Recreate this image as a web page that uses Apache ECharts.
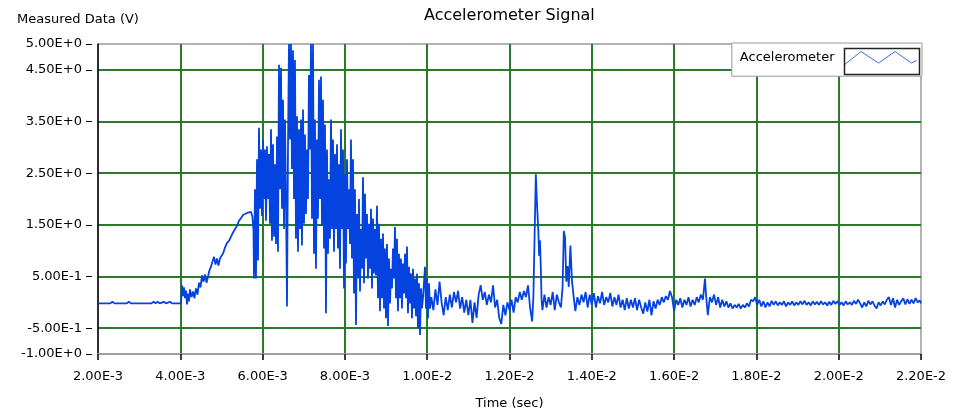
<!DOCTYPE html>
<html>
<head>
<meta charset="utf-8">
<script src="https://cdn.jsdelivr.net/npm/echarts@6/dist/echarts.min.js"></script>
<style>
html,body{margin:0;padding:0;background:#fff;}
#chart{width:961px;height:415px;}
</style>
</head>
<body>
<div id="chart"></div>
<script>
// ---- data (time in ms, value in V) ----
const seriesName = 'Accelerometer';
const yTickValues = [-1, -0.5, 0.5, 1.5, 2.5, 3.5, 4.5, 5];

const baselineSeg = [
  [2.00,-0.02],[2.30,-0.02],[2.35,0.01],[2.40,-0.02],[2.70,-0.02],[2.75,0.01],[2.80,-0.02],
  [3.30,-0.02],[3.35,0.01],[3.40,-0.02],[3.45,0.01],[3.50,-0.02],[3.60,0.01],[3.65,-0.02],
  [3.75,0.01],[3.80,-0.02],[3.95,-0.02]
];

const rampSeg = [
  [4.017,-0.02],[4.041,0.33],[4.066,0.12],[4.090,0.29],[4.114,0.08],[4.138,0.23],[4.163,-0.04],
  [4.187,0.17],[4.211,0.02],[4.236,0.25],[4.272,0.10],[4.309,0.21],[4.345,0.08],[4.381,0.27],
  [4.418,0.15],[4.454,0.38],[4.491,0.29],[4.527,0.52],[4.564,0.40],[4.600,0.54],[4.637,0.38],
  [4.673,0.50],[4.709,0.62],[4.746,0.69],[4.782,0.79],[4.819,0.88],[4.855,0.73],[4.892,0.85],
  [4.928,0.71],[4.965,0.85],[5.001,0.90],[5.037,0.94],[5.086,1.06],[5.135,1.15],[5.183,1.19],
  [5.232,1.27],[5.280,1.35],[5.329,1.42],[5.378,1.48],[5.426,1.58],[5.475,1.63],[5.523,1.69],
  [5.572,1.71],[5.621,1.73],[5.669,1.71],[5.718,1.75],[5.754,1.65],[5.779,1.38]
];

const burstSeg = [
  [5.791,0.46],[5.815,2.19],[5.839,0.46],[5.864,2.77],[5.888,0.81],[5.912,3.38],[5.937,1.81],
  [5.961,2.96],[5.985,1.67],[6.010,3.15],[6.034,2.00],[6.058,2.96],[6.083,1.58],[6.107,3.02],
  [6.131,2.00],[6.156,2.87],[6.180,1.52],[6.204,3.35],[6.228,1.19],[6.253,3.06],[6.277,1.27],
  [6.301,2.67],[6.326,1.13],[6.350,3.21],[6.374,0.98],[6.398,4.60],[6.423,2.19],[6.447,4.54],
  [6.471,1.81],[6.496,3.92],[6.520,1.42],[6.544,3.54],[6.569,2.00],[6.593,-0.08],[6.617,2.96],
  [6.641,5.00],[6.666,3.15],[6.690,5.00],[6.714,2.58],[6.739,4.88],[6.763,2.00],[6.787,4.69],
  [6.811,1.23],[6.836,3.60],[6.860,0.98],[6.884,3.35],[6.909,1.42],[6.933,3.54],[6.957,1.10],
  [6.982,3.73],[7.006,1.52],[7.030,3.25],[7.054,1.71],[7.079,2.96],[7.103,2.00],[7.127,4.40],
  [7.152,2.96],[7.176,5.00],[7.200,1.62],[7.225,5.00],[7.249,0.94],[7.273,3.54],[7.297,0.65],
  [7.322,3.15],[7.346,1.62],[7.370,4.31],[7.395,2.00],[7.419,4.37],[7.443,1.48],[7.468,3.92],
  [7.492,1.04],[7.516,3.44],[7.540,-0.21],[7.565,2.96],[7.589,0.94],[7.613,2.38],[7.638,1.23],
  [7.662,3.54],[7.686,1.42],[7.711,3.15],[7.735,0.98],[7.759,2.87],[7.783,1.42],[7.808,3.06],
  [7.832,1.04],[7.856,2.67],[7.881,0.65],[7.905,3.35],[7.929,1.42],[7.954,2.96],[7.978,0.27],
  [8.002,2.48],[8.026,0.75],[8.051,2.77],[8.075,1.42],[8.099,2.19],[8.124,1.13],[8.148,3.15],
  [8.172,0.85],[8.197,2.77],[8.221,0.17],[8.245,2.19],[8.269,-0.44],[8.294,1.71],[8.318,0.46],
  [8.342,2.00],[8.367,0.21],[8.391,1.42],[8.415,0.65],[8.440,2.42],[8.464,0.37],[8.488,2.10],
  [8.512,0.85],[8.537,1.71],[8.561,0.46],[8.585,1.52],[8.610,0.65],[8.634,1.81],[8.658,0.27],
  [8.683,1.62],[8.707,0.56],[8.731,1.42],[8.755,0.52],[8.780,1.87],[8.804,0.08],[8.828,1.52],
  [8.853,-0.17],[8.877,1.23],[8.901,0.08],[8.926,1.33],[8.950,-0.12],[8.974,1.04],[8.998,-0.31],
  [9.023,1.13],[9.047,-0.46],[9.071,0.85],[9.096,-0.02],[9.120,0.65],[9.144,0.27],[9.168,1.04],
  [9.193,0.46],[9.217,1.46],[9.241,0.08],[9.266,1.23],[9.290,-0.17],[9.314,0.94],[9.339,0.08],
  [9.363,0.85],[9.387,-0.12],[9.411,0.75],[9.436,0.17],[9.460,0.94],[9.484,0.08],[9.509,1.08],
  [9.533,-0.21],[9.557,0.69],[9.582,-0.02],[9.606,0.56],[9.630,-0.31],[9.654,0.65],[9.679,-0.12],
  [9.703,0.46],[9.727,-0.27],[9.752,0.56],[9.776,-0.50],[9.800,0.37],[9.825,-0.63],[9.849,0.27],
  [9.873,-0.12],[9.897,0.08],[9.922,0.08],[9.946,0.69],[9.970,-0.12],[9.995,0.46],[10.019,-0.31],
  [10.043,0.37],[10.068,-0.12]
];

const tailSeg = [
  [10.10,0.10],[10.15,-0.15],[10.20,0.25],[10.25,-0.05],[10.30,0.40],[10.35,0.00],[10.40,-0.25],
  [10.45,0.10],[10.50,-0.15],[10.55,0.15],[10.60,-0.10],[10.65,0.20],[10.70,0.00],[10.75,0.22],
  [10.80,-0.12],[10.85,0.10],[10.90,-0.20],[10.95,0.05],[11.00,-0.25],[11.05,0.05],[11.10,-0.40],
  [11.15,0.00],[11.20,-0.30],[11.25,0.15],[11.30,0.33],[11.35,0.05],[11.40,0.20],[11.45,-0.05],
  [11.50,0.15],[11.55,0.00],[11.60,0.33],[11.65,-0.10],[11.70,0.05],[11.75,-0.30],[11.80,-0.42],
  [11.85,-0.05],[11.90,-0.25],[11.95,0.00],[12.00,-0.15],[12.05,0.05],[12.10,-0.20],[12.15,0.10],
  [12.20,0.00],[12.25,0.20],[12.30,0.05],[12.35,0.22],[12.40,0.10],[12.45,0.33],[12.50,-0.10],
  [12.55,-0.37],[12.58,0.10],[12.61,1.30],[12.64,2.48],[12.67,1.87],[12.70,1.40],[12.72,0.90],
  [12.74,1.20],[12.76,0.70],[12.78,0.05],[12.80,-0.15],[12.85,0.15],[12.90,-0.10],[12.95,0.10],
  [13.00,-0.05],[13.05,0.20],[13.10,-0.15],[13.15,0.15],[13.20,0.00],[13.25,-0.10],[13.29,0.30],
  [13.32,1.38],[13.35,1.25],[13.38,0.40],[13.41,0.70],[13.44,0.30],[13.48,1.10],[13.52,0.40],
  [13.56,0.10],[13.60,-0.17],[13.65,0.10],[13.70,-0.05],[13.75,0.15],[13.80,0.00],[13.85,0.20],
  [13.90,-0.10],[13.95,0.15],[14.00,-0.05],[14.05,0.18],[14.10,-0.10],[14.15,0.12],[14.20,-0.02],
  [14.25,0.20],[14.30,-0.05],[14.35,0.10],[14.40,0.00],[14.45,0.18],[14.50,-0.08],[14.55,0.10],
  [14.60,-0.05],[14.65,0.15],[14.70,-0.10],[14.75,0.05],[14.80,-0.15],[14.85,0.08],[14.90,-0.12],
  [14.95,0.05],[15.00,-0.10],[15.05,0.08],[15.10,-0.15],[15.15,0.05],[15.20,-0.10],[15.25,-0.22],
  [15.30,0.00],[15.35,-0.18],[15.40,0.05],[15.45,-0.25],[15.50,0.02],[15.55,-0.12],[15.60,0.05],
  [15.65,-0.05],[15.70,0.10],[15.75,0.00],[15.80,0.12],[15.85,0.05],[15.90,0.22],[15.95,0.10],
  [16.00,-0.17],[16.05,0.05],[16.10,-0.05],[16.15,0.08],[16.20,-0.10],[16.25,0.05],[16.30,-0.05],
  [16.35,0.10],[16.40,-0.08],[16.45,0.05],[16.50,-0.05],[16.55,0.10],[16.60,0.00],[16.65,0.15],
  [16.70,0.05],[16.75,0.46],[16.78,0.10],[16.82,-0.25],[16.87,0.10],[16.92,0.00],[16.97,0.15],
  [17.02,-0.05],[17.07,0.10],[17.12,-0.10],[17.17,0.05],[17.22,-0.08],[17.27,0.02],[17.32,-0.10],
  [17.37,-0.02],[17.42,-0.12],[17.47,-0.05],[17.52,-0.10],[17.57,-0.03],[17.62,-0.12],[17.67,-0.05],
  [17.72,-0.10],[17.77,-0.02],[17.82,-0.08],[17.87,0.05],[17.92,0.02],[17.97,0.10],[18.02,-0.05],
  [18.07,0.05],[18.12,-0.08],[18.17,0.02],[18.22,-0.10],[18.27,0.00],[18.32,-0.08],[18.37,0.03],
  [18.42,-0.05],[18.47,0.02],[18.52,-0.06],[18.57,0.00],[18.62,-0.05],[18.67,0.02],[18.72,-0.08],
  [18.77,0.00],[18.82,-0.05],[18.87,0.02],[18.92,-0.06],[18.97,0.00],[19.02,-0.05],[19.07,0.02],
  [19.12,-0.04],[19.17,0.03],[19.22,-0.05],[19.27,0.00],[19.32,-0.06],[19.37,0.02],[19.42,-0.04],
  [19.47,0.01],[19.52,-0.05],[19.57,0.02],[19.62,-0.04],[19.67,0.00],[19.72,-0.06],[19.77,0.01],
  [19.82,-0.05],[19.87,0.03],[19.92,-0.03],[19.97,0.02],[20.02,-0.05],[20.07,0.00],[20.12,-0.06],
  [20.17,0.02],[20.22,-0.04],[20.27,0.00],[20.32,-0.05],[20.37,0.03],[20.42,-0.03],[20.47,0.05],
  [20.52,-0.02],[20.57,-0.10],[20.62,0.00],[20.67,-0.08],[20.72,0.03],[20.77,-0.04],[20.82,0.02],
  [20.87,-0.06],[20.92,-0.12],[20.97,0.00],[21.02,-0.06],[21.07,0.02],[21.12,-0.04],[21.17,0.05],
  [21.22,0.10],[21.27,-0.05],[21.32,0.08],[21.37,-0.10],[21.42,0.05],[21.47,-0.05],[21.52,0.02],
  [21.57,0.08],[21.62,-0.04],[21.67,0.06],[21.72,-0.03],[21.77,0.05],[21.82,-0.02],[21.87,0.08],
  [21.92,0.00],[21.97,0.04],[22.00,-0.02]
];

const signal = baselineSeg.concat(rampSeg, burstSeg, tailSeg);

// ---- chart ----
const FONT = 'DejaVu Sans';
const GREEN = '#2b7a2b';
const BLUE = '#0543e0';
const expFmt = v => Number(v).toExponential(2).toUpperCase();

const chart = echarts.init(document.getElementById('chart'), null, {renderer: 'canvas'});
chart.setOption({
  animation: false,
  backgroundColor: '#fff',
  title: {
    text: 'Accelerometer Signal',
    left: 424,
    top: 3,
    padding: [5, 0, 5, 0],
    textStyle: {fontFamily: FONT, fontSize: 16, fontWeight: 'normal', color: '#000'}
  },
  legend: {
    data: [seriesName],
    right: 39,
    top: 43,
    align: 'right',
    selectedMode: false,
    backgroundColor: '#fff',
    borderColor: '#999',
    borderWidth: 1,
    padding: [8, 5, 11, 8],
    itemGap: 0,
    itemWidth: 72,
    itemHeight: 14,
    icon: 'path://M0,40 L50,0 L103,35 L153,0 L203,35 L218,27',
    itemStyle: {color: 'transparent', borderColor: '#3a6ae8', borderWidth: 1},
    textStyle: {fontFamily: FONT, fontSize: 13, color: '#000', padding: [0, 5, 0, 0]}
  },
  graphic: [{
    type: 'rect', left: 842, top: 46, z: 100,
    shape: {width: 75, height: 26},
    style: {fill: 'none', stroke: '#222', lineWidth: 1.5}
  }],
  grid: {left: 98, right: 40, top: 44, bottom: 59, show: true, borderColor: '#666', borderWidth: 1},
  xAxis: {
    type: 'value', min: 2, max: 22, interval: 2,
    name: 'Time (sec)', nameLocation: 'middle', nameGap: 43,
    nameTextStyle: {fontFamily: FONT, fontSize: 13, color: '#000'},
    axisLine: {onZero: false, lineStyle: {color: '#a0a0a0', width: 2}},
    axisTick: {show: true, length: 6, lineStyle: {color: '#000', width: 1.5}},
    axisLabel: {formatter: v => expFmt(v / 1000), fontFamily: FONT, fontSize: 13, color: '#000', margin: 16},
    splitLine: {show: true, showMinLine: false, showMaxLine: false, lineStyle: {color: GREEN, width: 2}}
  },
  yAxis: {
    type: 'value', min: -1, max: 5, interval: 0.5,
    name: 'Measured Data (V)', nameLocation: 'end', nameGap: 18,
    nameTextStyle: {fontFamily: FONT, fontSize: 13, color: '#000', align: 'center', padding: [0, 40, 0, 0]},
    axisLine: {show: true, onZero: false, lineStyle: {color: '#000', width: 1.5}},
    axisTick: {show: true, customValues: yTickValues, length: 12, lineStyle: {color: '#000', width: 1, type: [6, 6], dashOffset: 6}},
    axisLabel: {customValues: yTickValues, formatter: v => expFmt(v), fontFamily: FONT, fontSize: 13, color: '#000', margin: 16},
    splitLine: {show: true, showMinLine: false, showMaxLine: false, lineStyle: {color: GREEN, width: 2}}
  },
  series: [{
    name: seriesName,
    type: 'line',
    data: signal,
    showSymbol: false,
    symbol: 'none',
    clip: true,
    z: 3,
    lineStyle: {color: BLUE, width: 1.8},
    itemStyle: {color: BLUE}
  }]
});
</script>
</body>
</html>
